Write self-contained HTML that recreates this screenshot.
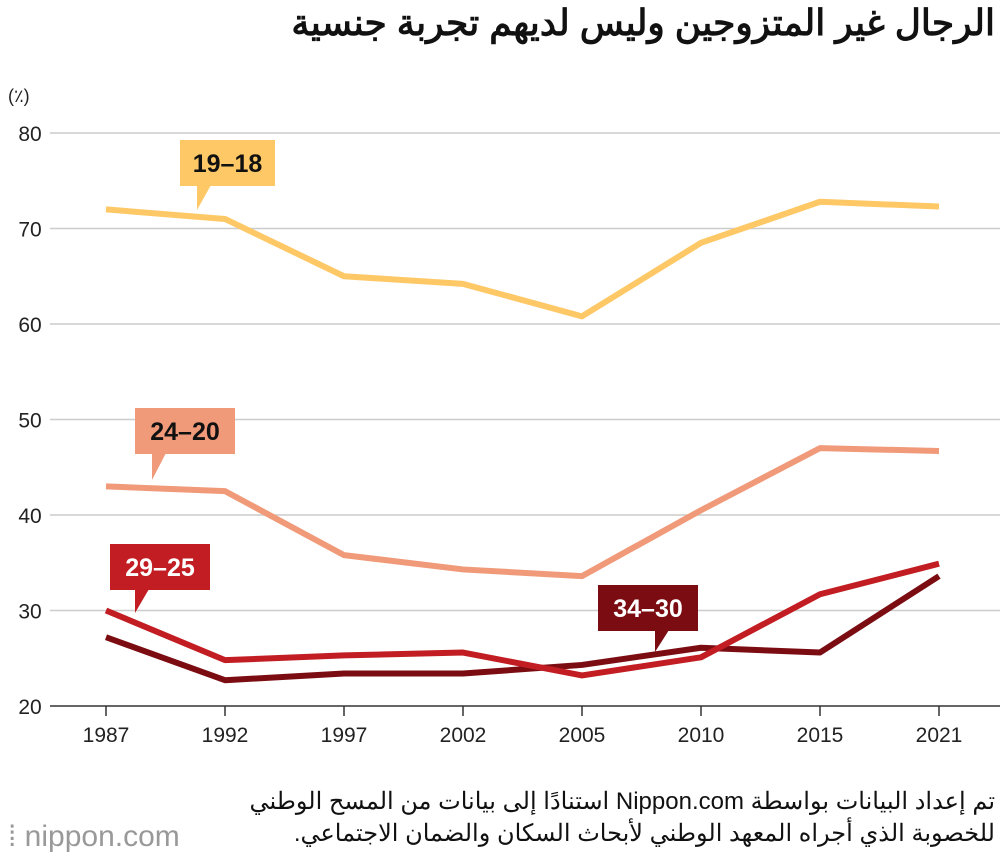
<!DOCTYPE html>
<html><head><meta charset="utf-8"><style>
body{margin:0;background:#fff;width:1000px;height:856px;overflow:hidden;font-family:"Liberation Sans","Noto Sans CJK SC",sans-serif;position:relative}
.ar{position:absolute;right:5px;direction:rtl;text-align:right;white-space:nowrap;color:#111}
</style></head><body>
<div class="ar" style="top:2px;font-size:36px;font-weight:bold">الرجال غير المتزوجين وليس لديهم تجربة جنسية</div>
<div class="ar" style="top:787px;font-size:24px">تم إعداد البيانات بواسطة Nippon.com استنادًا إلى بيانات من المسح الوطني</div>
<div class="ar" style="top:819px;font-size:24px">للخصوبة الذي أجراه المعهد الوطني لأبحاث السكان والضمان الاجتماعي.</div>
<svg id="chart" width="1000" height="856" style="position:absolute;left:0;top:0">
<text x="8" y="102" font-size="18" fill="#222">(٪)</text>
<g id="grid"></g><g id="lines"></g><g id="labels"></g>
<text x="8" y="846" font-size="30" fill="#999">⁞ nippon.com</text>
</svg>
<script>
const years=["1987","1992","1997","2002","2005","2010","2015","2021"];
const yTicks=[20,30,40,50,60,70,80];
const s1819=[72,71,65,64.2,60.8,68.5,72.8,72.3];
const s2024=[43,42.5,35.8,34.3,33.6,40.5,47,46.7];
const s2529=[30,24.8,25.3,25.6,23.2,25.1,31.7,34.9];
const s3034=[27.2,22.7,23.4,23.4,24.3,26.1,25.6,33.6];
const NS="http://www.w3.org/2000/svg";
function yS(v){return 706-(v-20)*9.55;}
function xS(i){return 106+i*119;}
function mk(t,a,p){const e=document.createElementNS(NS,t);for(const k in a)e.setAttribute(k,a[k]);p.appendChild(e);return e;}
const grid=document.getElementById('grid');
yTicks.forEach(v=>{
 const l=mk('line',{x1:50,x2:1000,y1:yS(v),y2:yS(v),stroke:v==20?'#333':'#ccc','stroke-width':1.5},grid);
 
 
 const t=mk('text',{x:30,y:yS(v)+8,'text-anchor':'middle','font-size':21,fill:'#222'},grid);t.textContent=v;
 
 
});
years.forEach((y,i)=>{
 const tk=mk('line',{x1:xS(i),x2:xS(i),y1:706,y2:716,stroke:'#333','stroke-width':1.5},grid);
 
 
 const t=mk('text',{x:xS(i),y:742,'text-anchor':'middle','font-size':21,fill:'#222'},grid);t.textContent=y;
 
 
});
const series=[[s1819,'#fdc865','19–18',[180,140,95,46],[197,210]],[s2024,'#f09a7a','24–20',[135,408,100,46],[152,480]],[s3034,'#7b0d12','34–30',[598,585,100,46],[655,652]],[s2529,'#c21d22','29–25',[110,544,100,46],[135,613]]];
const lg=document.getElementById('lines'),lb=document.getElementById('labels');
series.forEach(([d,c,name,b,tip])=>{
 const p=mk('polyline',{points:d.map((v,i)=>xS(i)+','+yS(v)).join(' '),fill:'none',stroke:c,'stroke-width':6,'stroke-linejoin':'round'},lg);
 
 
 const r=mk('rect',{x:b[0],y:b[1],width:b[2],height:b[3],fill:c},lb);
 
 
 const cx=tip[0],by=b[1]+b[3];
 const tr=mk('polygon',{points:`${cx},${by-1} ${cx+14},${by-1} ${tip[0]},${tip[1]}`,fill:c},lb);
 
 
 const t=mk('text',{x:b[0]+b[2]/2,y:b[1]+32,'text-anchor':'middle','font-size':25,'font-weight':'bold',fill:c==='#fdc865'||c==='#f09a7a'?'#111':'#fff'},lb);t.textContent=name;
 
 
});
</script>
</body></html>
